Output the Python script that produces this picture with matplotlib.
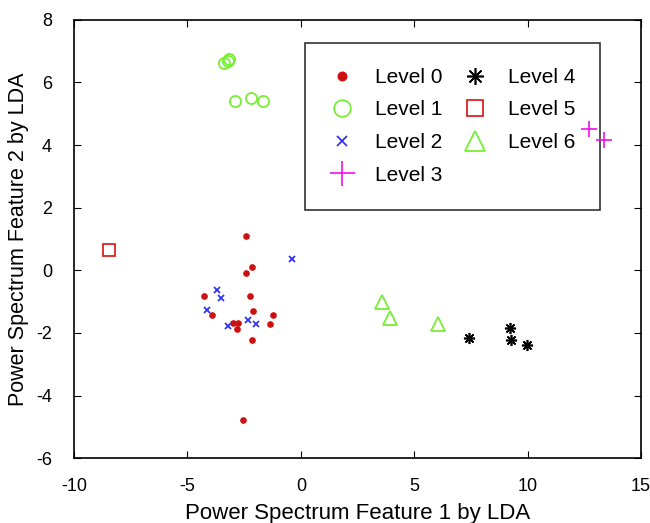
import numpy as np
import matplotlib.pyplot as plt

plt.rcParams['font.family'] = ['Liberation Sans', 'DejaVu Sans']
plt.rcParams['axes.unicode_minus'] = False

# LDA features
lvl0_x = [-2.42, -2.17, -2.42, -4.29, -2.22, -2.10, -1.21, -3.92, -3.00, -2.75, -1.34, -2.81, -2.17, -2.57]
lvl0_y = [1.11, 0.10, -0.10, -0.82, -0.82, -1.30, -1.42, -1.42, -1.68, -1.68, -1.73, -1.88, -2.23, -4.79]
lvl1_x = [-3.39, -3.22, -3.18, -2.91, -2.19, -1.69]
lvl1_y = [6.63, 6.70, 6.76, 5.40, 5.52, 5.40]
lvl2_x = [-0.41, -3.69, -3.54, -4.14, -2.32, -1.97, -3.20]
lvl2_y = [0.37, -0.63, -0.88, -1.28, -1.59, -1.70, -1.78]
lvl3_x = [12.70, 13.39]
lvl3_y = [4.53, 4.15]
lvl4_x = [7.42, 9.24, 9.29, 9.98]
lvl4_y = [-2.16, -1.85, -2.24, -2.37]
lvl5_x = [-8.48]
lvl5_y = [0.65]
lvl6_x = [3.58, 3.94, 6.06]
lvl6_y = [-1.01, -1.53, -1.70]

fig = plt.figure(figsize=(6.5, 5.23), dpi=100)
ax = fig.add_axes([0.114, 0.124, 0.872, 0.838])

green = '#77ee33'
ax.plot(lvl0_x, lvl0_y, 'o', color='#cc1111', ms=4.8, mew=0, label='Level 0', zorder=3)
ax.plot(lvl1_x, lvl1_y, 'o', mfc='none', mec=green, ms=8, mew=1.3, label='Level 1', zorder=3)
ax.plot(lvl2_x, lvl2_y, 'x', color='#3333ee', ms=5, mew=1.3, label='Level 2', zorder=3)
ax.plot(lvl3_x, lvl3_y, '+', color='#ee11ee', ms=12, mew=1.2, label='Level 3', zorder=3)
ax.plot(lvl4_x, lvl4_y, marker=(8, 2, 0), ls='none', color='black', ms=8, mew=1.2, label='Level 4', zorder=3)
ax.plot(lvl5_x, lvl5_y, 's', mfc='none', mec='#dd2222', ms=8, mew=1.3, label='Level 5', zorder=3)
ax.plot(lvl6_x, lvl6_y, '^', mfc='none', mec=green, ms=10, mew=1.3, label='Level 6', zorder=3)

ax.set_xlim(-10, 15)
ax.set_ylim(-6, 8)
ax.set_xticks(np.arange(-10, 16, 5))
ax.set_yticks(np.arange(-6, 9, 2))
ax.tick_params(direction='in', top=True, right=True, labelsize=13, length=5)
ax.tick_params(axis='x', pad=14)
ax.tick_params(axis='y', pad=16)
for s in ax.spines.values():
    s.set_linewidth(1.2)
ax.set_xlabel('Power Spectrum Feature 1 by LDA', fontsize=16, labelpad=6)
ax.set_ylabel('Power Spectrum Feature 2 by LDA', fontsize=15.5)
ax.yaxis.set_label_coords(-0.08, 0.5)

leg = ax.legend(ncol=2, loc='upper left', bbox_to_anchor=(0.407, 0.9475), borderaxespad=0,
                fancybox=False, edgecolor='black', fontsize=15, markerscale=1.5,
                handlelength=1.2, handletextpad=0.95, columnspacing=1.0,
                labelspacing=0.65, borderpad=1.2)
leg.get_frame().set_linewidth(1.2)
leg.set_zorder(1)

fig.savefig('out.png')
